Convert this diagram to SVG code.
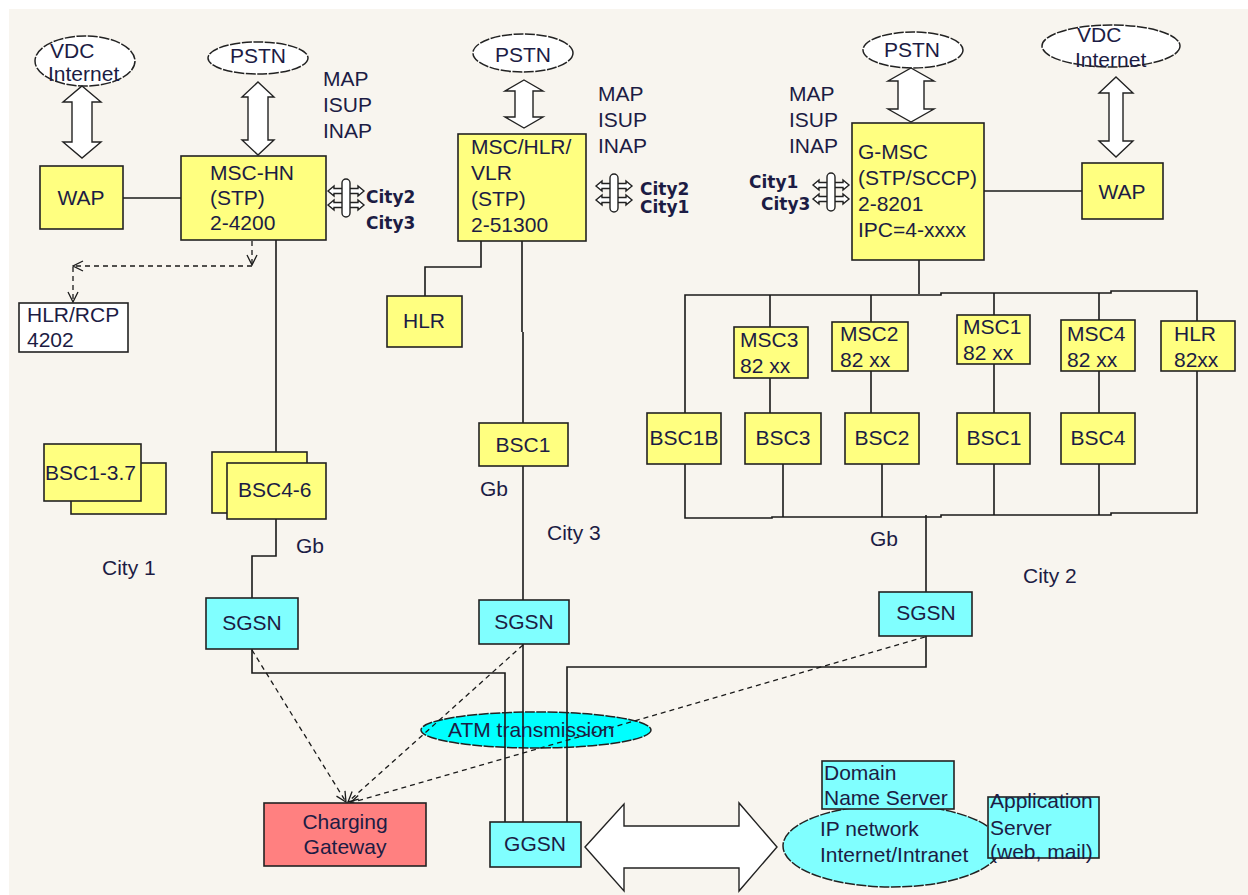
<svg xmlns="http://www.w3.org/2000/svg" width="1248" height="895" viewBox="0 0 1248 895">
<style>
text{font-family:"Liberation Sans",Arial,sans-serif;font-size:21px;fill:#1c1c44}
.b{font-family:"DejaVu Sans",Verdana,sans-serif;font-weight:bold;font-size:17px}
.c{text-anchor:middle}
.y{fill:#ffff80;stroke:#222;stroke-width:1.6}
.cy{fill:#80ffff;stroke:#222;stroke-width:1.6}
.w{fill:#fff;stroke:#222;stroke-width:1.6}
.el{fill:#fff;stroke:#222;stroke-width:1.5;stroke-dasharray:10 1.5}
.ln{fill:none;stroke:#1a1a1a;stroke-width:1.6}
.da{fill:none;stroke:#1a1a1a;stroke-width:1.3;stroke-dasharray:5 4}
.ar{fill:#fff;stroke:#222;stroke-width:1.4}
</style>
<defs>
<marker id="v" viewBox="0 0 12 12" refX="11" refY="6" markerWidth="12" markerHeight="12" markerUnits="userSpaceOnUse" orient="auto">
<path d="M1,1 L11,6 L1,11" fill="none" stroke="#1a1a1a" stroke-width="1.3"/>
</marker>
<g id="link">
<polygon class="ar" points="-18,-7 -12,-12 -12,-9.5 12,-9.5 12,-12 18,-7 12,-2 12,-4.5 -12,-4.5 -12,-2"/>
<polygon class="ar" points="-18,7 -12,2 -12,4.5 12,4.5 12,2 18,7 12,12 12,9.5 -12,9.5 -12,12"/>
<rect class="ar" x="-4" y="-19" width="8" height="38" rx="4"/>
</g>
</defs>
<rect width="1248" height="895" fill="#fff"/>
<rect x="9" y="9" width="1239" height="886" fill="#f8f5ef"/>

<g id="atm">
<ellipse cx="536" cy="730" rx="115" ry="18" fill="#00ffff" stroke="#222" stroke-width="1.5" stroke-dasharray="10 1.5"/>
</g>

<g id="connectors">
<path class="ln" d="M123,198 H181"/>
<path class="ln" d="M276,240 V463"/>
<path class="ln" d="M276,519 V556 H252 V598"/>
<path class="ln" d="M252,649 V673 H505 V822"/>
<path class="ln" d="M481,241 V267 H425 V296"/>
<path class="ln" d="M522,241 V332 M523,332 V423"/>
<path class="ln" d="M523,466 V600"/>
<path class="ln" d="M523,644 V822"/>
<path class="ln" d="M984,191 H1082"/>
<path class="ln" d="M919,260 V294"/>
<path class="ln" d="M685,413 V295 H941 V293 H1111 V291 H1197 V321"/>
<path class="ln" d="M770,295 V327 M871,295 V322 M994,293 V315 M1099,293 V320"/>
<path class="ln" d="M770,378 V413 M871,371 V413 M994,364 V413 M1099,371 V413"/>
<path class="ln" d="M685,464 V518 H772 V517 H941 V515 H1111 V513 H1197 V371"/>
<path class="ln" d="M783,464 V517 M882,464 V517 M994,464 V515 M1099,464 V515"/>
<path class="ln" d="M926,515 V592"/>
<path class="ln" d="M926,636 V667 H567 V822"/>
<path class="da" d="M252,241 V265" marker-end="url(#v)"/>
<path class="da" d="M252,266 H73" marker-end="url(#v)"/>
<path class="da" d="M73,267 V302" marker-end="url(#v)"/>
<path class="da" d="M252,650 L346,802" marker-end="url(#v)"/>
<path class="da" d="M523,645 L348,802" marker-end="url(#v)"/>
<path class="da" d="M925,637 L350,803" marker-end="url(#v)"/>
</g>

<g id="atm-label"><text x="448" y="737">ATM transmission</text></g>

<g id="vdc-left"><ellipse class="el" cx="85" cy="61" rx="50" ry="25"/><text x="50" y="58">VDC</text><text x="48" y="81">Internet</text></g>
<g id="arrow-vdc-left"><polygon class="ar" points="82,86 101,102 92,102 92,142 101,142 82,158 63,142 72,142 72,102 63,102"/></g>
<g id="pstn-left"><ellipse class="el" cx="258" cy="58" rx="50" ry="16"/><text class="c" x="258" y="63">PSTN</text></g>
<g id="arrow-pstn-left"><polygon class="ar" points="258,82 274,97 268,97 268,140 274,140 258,155 242,140 248,140 248,97 242,97"/></g>
<g id="proto-left"><text x="323" y="86">MAP</text><text x="323" y="112">ISUP</text><text x="323" y="138">INAP</text></g>
<g id="wap-left"><rect class="y" x="40" y="166" width="83" height="63"/><text class="c" x="81" y="205">WAP</text></g>
<g id="msc-hn"><rect class="y" x="181" y="156" width="145" height="84"/><text x="210" y="180">MSC-HN</text><text x="210" y="205">(STP)</text><text x="210" y="230">2-4200</text></g>
<g id="link-left"><use href="#link" x="346" y="198"/><text class="b" x="366" y="203">City2</text><text class="b" x="366" y="229">City3</text></g>
<g id="hlr-rcp"><rect class="w" x="19" y="303" width="109" height="49"/><text x="27" y="322">HLR/RCP</text><text x="27" y="347">4202</text></g>
<g id="bsc1-37"><rect class="y" x="71" y="463" width="95" height="51"/><rect class="y" x="44" y="444" width="97" height="57"/><text x="45" y="480">BSC1-3.7</text></g>
<g id="bsc4-6"><rect class="y" x="212" y="452" width="95" height="61"/><rect class="y" x="227" y="463" width="99" height="56"/><text x="238" y="497">BSC4-6</text></g>
<g id="gb-1"><text x="296" y="553">Gb</text></g>
<g id="city1"><text x="102" y="575">City 1</text></g>
<g id="sgsn-1"><rect class="cy" x="206" y="598" width="92" height="51"/><text class="c" x="252" y="630">SGSN</text></g>

<g id="pstn-mid"><ellipse class="el" cx="523" cy="53" rx="50" ry="19"/><text class="c" x="523" y="62">PSTN</text></g>
<g id="arrow-pstn-mid"><polygon class="ar" points="524,80 543,91 533,91 533,117 543,117 524,128 505,117 515,117 515,91 505,91"/></g>
<g id="proto-mid"><text x="598" y="101">MAP</text><text x="598" y="127">ISUP</text><text x="598" y="153">INAP</text></g>
<g id="msc-hlr-vlr"><rect class="y" x="458" y="134" width="128" height="107"/><text x="471" y="154">MSC/HLR/</text><text x="471" y="180">VLR</text><text x="471" y="206">(STP)</text><text x="471" y="232">2-51300</text></g>
<g id="link-mid"><use href="#link" x="614" y="193"/><text class="b" x="640" y="195">City2</text><text class="b" x="640" y="213">City1</text></g>
<g id="hlr-mid"><rect class="y" x="387" y="296" width="75" height="51"/><text class="c" x="424" y="328">HLR</text></g>
<g id="bsc1-mid"><rect class="y" x="479" y="423" width="89" height="43"/><text class="c" x="523" y="452">BSC1</text></g>
<g id="gb-3"><text x="480" y="496">Gb</text></g>
<g id="city3"><text x="547" y="540">City 3</text></g>
<g id="sgsn-3"><rect class="cy" x="479" y="600" width="90" height="44"/><text class="c" x="524" y="629">SGSN</text></g>

<g id="pstn-right"><ellipse class="el" cx="913" cy="50" rx="50" ry="18"/><text class="c" x="912" y="57">PSTN</text></g>
<g id="arrow-pstn-right"><polygon class="ar" points="911,68 934,81 924,81 924,109 934,109 911,122 888,109 898,109 898,81 888,81"/></g>
<g id="vdc-right"><ellipse class="el" cx="1111" cy="46" rx="69" ry="21"/><text x="1077" y="42">VDC</text><text x="1075" y="67">Internet</text></g>
<g id="arrow-vdc-right"><polygon class="ar" points="1116,77 1133,93 1123,93 1123,141 1133,141 1116,157 1099,141 1109,141 1109,93 1099,93"/></g>
<g id="proto-right"><text x="789" y="101">MAP</text><text x="789" y="127">ISUP</text><text x="789" y="153">INAP</text></g>
<g id="g-msc"><rect class="y" x="852" y="123" width="132" height="137"/><text x="858" y="159">G-MSC</text><text x="858" y="185">(STP/SCCP)</text><text x="858" y="211">2-8201</text><text x="858" y="237">IPC=4-xxxx</text></g>
<g id="link-right"><use href="#link" x="831" y="192"/><text class="b" x="749" y="188">City1</text><text class="b" x="761" y="210">City3</text></g>
<g id="wap-right"><rect class="y" x="1082" y="163" width="81" height="56"/><text class="c" x="1122" y="199">WAP</text></g>
<g id="msc3"><rect class="y" x="734" y="327" width="74" height="51"/><text x="740" y="347">MSC3</text><text x="740" y="373">82 xx</text></g>
<g id="msc2"><rect class="y" x="832" y="322" width="76" height="49"/><text x="840" y="341">MSC2</text><text x="840" y="367">82 xx</text></g>
<g id="msc1"><rect class="y" x="957" y="315" width="73" height="49"/><text x="963" y="334">MSC1</text><text x="963" y="360">82 xx</text></g>
<g id="msc4"><rect class="y" x="1061" y="320" width="74" height="51"/><text x="1067" y="341">MSC4</text><text x="1067" y="367">82 xx</text></g>
<g id="hlr-right"><rect class="y" x="1161" y="321" width="74" height="50"/><text x="1174" y="341">HLR</text><text x="1174" y="367">82xx</text></g>
<g id="bsc1b"><rect class="y" x="647" y="413" width="74" height="51"/><text class="c" x="684" y="445">BSC1B</text></g>
<g id="bsc3"><rect class="y" x="745" y="413" width="76" height="51"/><text class="c" x="783" y="445">BSC3</text></g>
<g id="bsc2"><rect class="y" x="845" y="413" width="74" height="51"/><text class="c" x="882" y="445">BSC2</text></g>
<g id="bsc1-right"><rect class="y" x="957" y="413" width="73" height="51"/><text class="c" x="994" y="445">BSC1</text></g>
<g id="bsc4"><rect class="y" x="1061" y="413" width="74" height="51"/><text class="c" x="1098" y="445">BSC4</text></g>
<g id="gb-2"><text x="870" y="546">Gb</text></g>
<g id="city2"><text x="1023" y="583">City 2</text></g>
<g id="sgsn-2"><rect class="cy" x="879" y="592" width="93" height="44"/><text class="c" x="926" y="620">SGSN</text></g>

<g id="charging"><rect x="264" y="803" width="162" height="63" fill="#ff8080" stroke="#222" stroke-width="1.6"/><text class="c" x="345" y="829">Charging</text><text class="c" x="345" y="854">Gateway</text></g>
<g id="ggsn"><rect class="cy" x="490" y="822" width="91" height="45"/><text class="c" x="535" y="851">GGSN</text></g>
<g id="big-arrow"><polygon class="ar" points="585,847 624,804 624,826 739,826 739,803 777,847 739,891 739,868 624,868 624,891"/></g>
<g id="ip-network"><ellipse cx="892" cy="846" rx="109" ry="41" fill="#80ffff" stroke="#222" stroke-width="1.5" stroke-dasharray="10 1.5"/><text x="820" y="836">IP network</text><text x="820" y="862">Internet/Intranet</text></g>
<g id="dns"><rect class="cy" x="822" y="761" width="132" height="48"/><text x="824" y="780">Domain</text><text x="824" y="805">Name Server</text></g>
<g id="app-server"><rect class="cy" x="988" y="797" width="111" height="61"/><text x="990" y="808">Application</text><text x="990" y="835">Server</text><text x="990" y="859">(web, mail)</text></g>
</svg>
